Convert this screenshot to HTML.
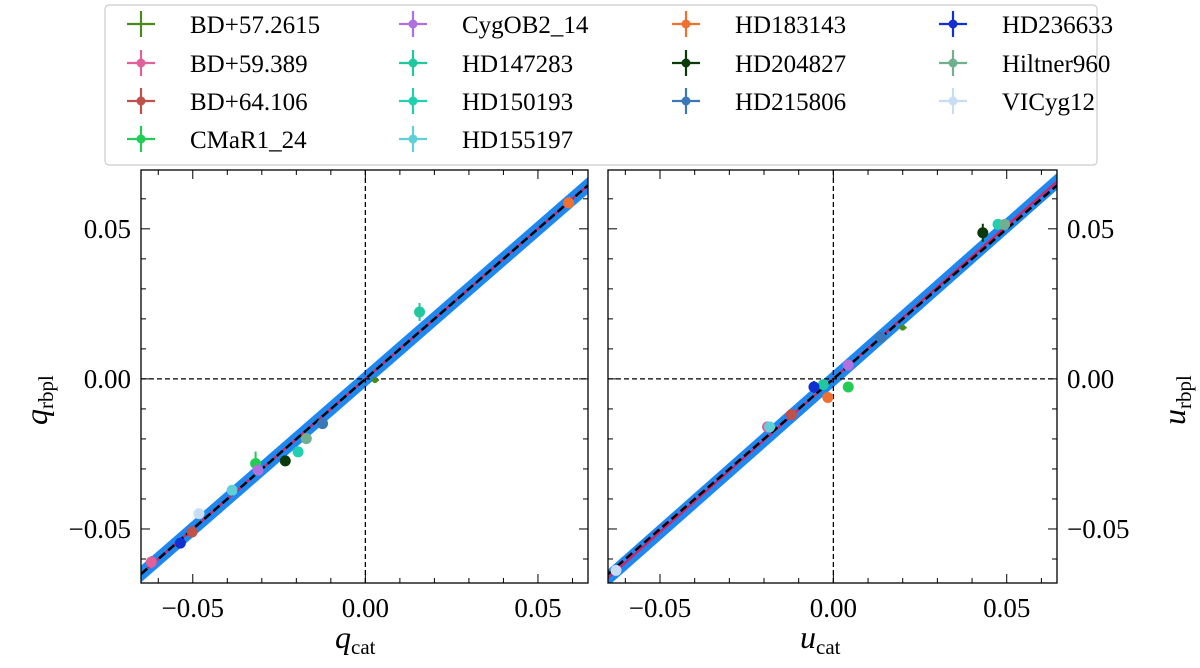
<!DOCTYPE html>
<html><head><meta charset="utf-8"><style>
body{margin:0;background:#fff}
svg{font-family:"Liberation Serif",serif}
</style></head><body>
<svg id="c" width="1200" height="663"></svg>
<script>
const names=["BD+57.2615","BD+59.389","BD+64.106","CMaR1_24","CygOB2_14","HD147283","HD150193","HD155197","HD183143","HD204827","HD215806","HD236633","Hiltner960","VICyg12"];
const colors=["#4a8a1c","#e0609a","#c0504a","#22cc55","#b070e0","#20c8a0","#20d0b0","#60d0d8","#f07030","#0a3a0a","#3a78b8","#1030d0","#70b090","#c8dcf4"];
const qCat=[0.0028,-0.062,-0.0502,-0.0318,-0.0311,0.0157,-0.0195,-0.0386,0.0589,-0.0232,-0.0124,-0.0536,-0.0171,-0.0482];
const qRb=[-0.0004,-0.061,-0.051,-0.0282,-0.0304,0.0223,-0.0243,-0.0371,0.0587,-0.0273,-0.0149,-0.0547,-0.0199,-0.0449];
const qErr=[0.0005,0.002,0.001,0.004,0.001,0.003,0.001,0.001,0.001,0.001,0.001,0.001,0.001,0.001];
const uCat=[0.020,-0.019,-0.0121,0.0043,0.0043,-0.0029,0.0475,-0.0184,-0.0016,0.0431,0.0137,-0.0056,0.0494,-0.0627];
const uRb=[0.0171,-0.016,-0.0119,-0.0027,0.0046,-0.0019,0.0515,-0.016,-0.0062,0.0487,0.0138,-0.0027,0.0515,-0.0638];
const uErr=[0.0005,0.001,0.001,0.001,0.001,0.001,0.001,0.001,0.001,0.003,0.001,0.002,0.001,0.001];
const xTicks=[-0.05,0,0.05];const tickLabels=["\u22120.05","0.00","0.05"];
const fitSlope=[1.0,1.02];
const NS="http://www.w3.org/2000/svg",svg=document.getElementById('c');
function el(t,a,p){const e=document.createElementNS(NS,t);for(const k in a)e.setAttribute(k,a[k]);(p||svg).appendChild(e);return e;}
const X0=-0.065,X1=0.0645,Y0=-0.068,Y1=0.0696;
function panel(L,R,xs,ys,es,slope,side){
  const T=170,B=583;
  const sx=v=>L+(v-X0)/(X1-X0)*(R-L), sy=v=>B-(v-Y0)/(Y1-Y0)*(B-T);
  const g=el('g',{});
  
  const cp='cp'+side;const d=el('clipPath',{id:cp},g);el('rect',{x:L,y:T,width:R-L,height:B-T},d);
  const c=el('g',{'clip-path':'url(#'+cp+')'},g);
  const band=el('polygon',{points:`${sx(X0)},${sy(X0*slope-0.0028)} ${sx(X1)},${sy(X1*slope-0.0028)} ${sx(X1)},${sy(X1*slope+0.0028)} ${sx(X0)},${sy(X0*slope+0.0028)}`,fill:'#1e88f0'},c);
  
  const fl=el('line',{x1:sx(X0),y1:sy(X0*slope),x2:sx(X1),y2:sy(X1*slope),stroke:'#e8185a','stroke-width':2},c);
  
  const id=el('line',{x1:sx(X0),y1:sy(X0),x2:sx(X1),y2:sy(X1),stroke:'#000','stroke-width':2.5,'stroke-dasharray':'8,4'},c);
  
  el('line',{x1:sx(0),y1:T,x2:sx(0),y2:B,stroke:'#000','stroke-width':1.3,'stroke-dasharray':'5,3'},c);
  el('line',{x1:L,y1:sy(0),x2:R,y2:sy(0),stroke:'#000','stroke-width':1.3,'stroke-dasharray':'5,3'},c);
  for(let i=0;i<xs.length;i++){
    const px=sx(xs[i]),py=sy(ys[i]),ep=es[i]*(B-T)/(Y1-Y0);
    const m=el('g',{},c);
    
    
    el('line',{x1:px,y1:py-ep,x2:px,y2:py+ep,stroke:colors[i],'stroke-width':2},m);
    el('line',{x1:px-4,y1:py,x2:px+4,y2:py,stroke:colors[i],'stroke-width':2},m);
    el('circle',{cx:px,cy:py,r:i==0?3:5.5,fill:colors[i]},m);
  }
  el('rect',{x:L,y:T,width:R-L,height:B-T,fill:'none',stroke:'#000','stroke-width':1.3},g);
  for(let v=-0.06;v<=0.0651;v+=0.01){const x=sx(v);const maj=Math.abs(Math.round(v*100)%5)==0;const l=maj?9:5;
    el('line',{x1:x,y1:B,x2:x,y2:B-l,stroke:'#000'},g);el('line',{x1:x,y1:T,x2:x,y2:T+l,stroke:'#000'},g);
    const y=sy(v);if(y>T&&y<B){el('line',{x1:L,y1:y,x2:L+l,y2:y,stroke:'#000'},g);el('line',{x1:R,y1:y,x2:R-l,y2:y,stroke:'#000'},g);}}
  xTicks.forEach((v,i)=>{const t=el('text',{x:sx(v),y:617,'text-anchor':'middle','font-size':27},g);t.textContent=tickLabels[i];
    
    const ty=el('text',{x:side=='left'?L-10:R+10,y:sy(v)+9,'text-anchor':side=='left'?'end':'start','font-size':27},g);ty.textContent=tickLabels[i];
    });
}
panel(141,588,qCat,qRb,qErr,fitSlope[0],'left');
panel(608,1057,uCat,uRb,uErr,fitSlope[1],'right');
function lbl(x,y,m,s,rot,name){const t=el('text',{x:x,y:y,'font-size':32,transform:rot?`rotate(-90 ${x} ${y})`:''});
  
  const a=el('tspan',{'font-style':'italic'},t);a.textContent=m;const b=el('tspan',{'font-size':21,dy:6},t);b.textContent=s;}
lbl(335,648,'q','cat',false,'x-axis-title-left');
lbl(800,648,'u','cat',false,'x-axis-title-right');
lbl(47,425,'q','rbpl',true,'y-axis-title-left');
lbl(1185,425,'u','rbpl',true,'y-axis-title-right');
const lg=el('g',{});
el('rect',{x:105,y:5,width:992,height:160,rx:4,fill:'#fff',stroke:'#ccc','stroke-width':1.2},lg);
const colX=[141,413,686,953],rowY=[24,63,101,139];
names.forEach((n,i)=>{const c=i<4?0:i<8?1:i<11?2:3;const r=i<4?i:i<8?i-4:i<11?i-8:i-11;
  const e=el('g',{},lg);
  const x=colX[c],y=rowY[r];
  el('line',{x1:x-14,y1:y,x2:x+14,y2:y,stroke:colors[i],'stroke-width':2.2},e);
  el('line',{x1:x,y1:y-13,x2:x,y2:y+13,stroke:colors[i],'stroke-width':2.2},e);
  if(i>0)el('circle',{cx:x,cy:y,r:4.5,fill:colors[i]},e);
  const t=el('text',{x:x+49,y:y+9,'font-size':25},e);t.textContent=n;});
</script>
</body></html>
